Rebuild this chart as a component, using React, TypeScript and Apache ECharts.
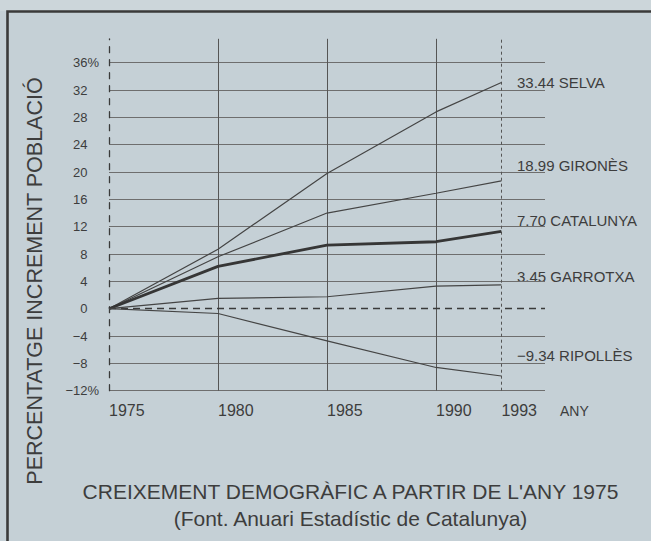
import React, { useEffect, useRef } from 'react';
import * as echarts from 'echarts';

// ---- data ----
const years = [1975, 1980, 1985, 1990, 1993];
const selva = [0, 8.7, 19.8, 28.8, 33.1];
const girones = [0, 7.6, 14.0, 16.9, 18.7];
const catalunya = [0, 6.2, 9.3, 9.8, 11.3];
const garrotxa = [0, 1.5, 1.75, 3.3, 3.5];
const ripolles = [0, -0.7, -4.7, -8.6, -9.85];

const seriesNames = ['SELVA', 'GIRONÈS', 'CATALUNYA', 'GARROTXA', 'RIPOLLÈS'];
const endLabels = ['33.44 SELVA', '18.99 GIRONÈS', '7.70 CATALUNYA', '3.45 GARROTXA', '−9.34 RIPOLLÈS'];
const gridYears = [1980, 1985, 1990];
const dashedYear = 1993;
const yName = 'PERCENTATGE INCREMENT POBLACIÓ';
const xName = 'ANY';
const title = "CREIXEMENT DEMOGRÀFIC A PARTIR DE L'ANY 1975";
const subtitle = '(Font. Anuari Estadístic de Catalunya)';

const FONT = '"Liberation Sans", Arial, sans-serif';
const INK = '#3d3d3d';
const LINE = '#454545';
const GRID = '#6e6e6e';
const BG = '#c5d0d6';

export default function App() {
  const ref = useRef<HTMLDivElement>(null);

  useEffect(() => {
    document.body.style.margin = '0';
    document.body.style.background = BG;
    if (!ref.current) return;
    const chart = echarts.init(ref.current, undefined, { renderer: 'svg' });

    const allSeries = [selva, girones, catalunya, garrotxa, ripolles];
    const labelY = [82, 165, 220, 276, 355];

    // split-line colours: hide the one at 0 (drawn dashed instead)
    const splitColors: string[] = [];
    for (let v = -12; v <= 36; v += 4) splitColors.push(v === 0 ? 'rgba(0,0,0,0)' : GRID);

    const series: any[] = allSeries.map((vals, i) => ({
      name: seriesNames[i],
      type: 'line',
      symbol: 'none',
      silent: true,
      z: 5,
      data: years.map((y, j) => [y, vals[j]]),
      lineStyle: { color: i === 2 ? '#363636' : LINE, width: i === 2 ? 2.8 : 1.2 },
    }));

    series.push({
      type: 'line',
      data: [],
      silent: true,
      markLine: {
        symbol: 'none',
        silent: true,
        label: { show: false },
        animation: false,
        data: [
          ...gridYears.map((y) => ({ xAxis: y, lineStyle: { color: '#555', width: 1, type: 'solid' } })),
          { xAxis: dashedYear, lineStyle: { color: '#555', width: 1, type: [3, 3] } },
          { yAxis: 0, lineStyle: { color: '#3a3a3a', width: 1.4, type: [7, 5] } },
        ],
      },
    });

    const option: any = {
      animation: false,
      backgroundColor: BG,
      grid: { left: 109, right: 106, top: 38.8, bottom: 150.3, containLabel: false },
      xAxis: {
        type: 'value',
        min: 1975,
        max: 1995,
        interval: 5,
        axisLine: { show: false, onZero: false },
        axisTick: { show: false },
        splitLine: { show: false },
        axisLabel: {
          customValues: years,
          align: 'left',
          margin: 12,
          fontSize: 16,
          color: INK,
          fontFamily: FONT,
          formatter: (v: number) => String(v),
        },
        name: xName,
        nameLocation: 'end',
        nameGap: 15,
        nameTextStyle: {
          fontSize: 14,
          color: INK,
          fontFamily: FONT,
          verticalAlign: 'top',
          align: 'left',
          padding: [13, 0, 0, 0],
        },
      },
      yAxis: {
        type: 'value',
        min: -12,
        max: 39.5,
        interval: 4,
        axisLine: { show: true, lineStyle: { color: '#3a3a3a', width: 1.3, type: [6, 7] } },
        axisTick: { show: false },
        splitLine: { show: true, showMaxLine: false, lineStyle: { color: splitColors, width: 1 } },
        axisLabel: {
          margin: 10,
          fontSize: 13,
          color: INK,
          fontFamily: FONT,
          formatter: (v: number) => {
            if (v % 4 !== 0) return '';
            const s = v < 0 ? '−' + Math.abs(v) : String(v);
            if (v === 36 || v === -12) return s + '%';
            return s + '{h|%}';
          },
          rich: {
            h: { fontSize: 13, color: 'rgba(0,0,0,0)', fontFamily: FONT },
          },
        },
      },
      series,
      graphic: [
        { type: 'rect', shape: { x: 0, y: 0, width: 651, height: 11 }, style: { fill: '#ccd6da' }, silent: true },
        {
          type: 'polyline',
          shape: { points: [[7.5, 541], [7.5, 11.5], [651, 11.5]] },
          style: { stroke: '#3a3a3a', lineWidth: 2.6, fill: 'none' },
          silent: true,
        },
        {
          type: 'text',
          x: 34.5,
          y: 281,
          rotation: Math.PI / 2,
          style: { text: yName, fontSize: 21.5, fill: INK, fontFamily: FONT, align: 'center', verticalAlign: 'middle' },
        },
        {
          type: 'text',
          x: 350.5,
          y: 491,
          style: { text: title, fontSize: 21, fill: INK, fontFamily: FONT, align: 'center', verticalAlign: 'middle' },
        },
        {
          type: 'text',
          x: 350.5,
          y: 518,
          style: { text: subtitle, fontSize: 21, fill: INK, fontFamily: FONT, align: 'center', verticalAlign: 'middle' },
        },
        ...endLabels.map((t, i) => ({
          type: 'text',
          x: 517,
          y: labelY[i],
          style: { text: t, fontSize: 15, fill: INK, fontFamily: FONT, align: 'left', verticalAlign: 'middle' },
        })),
      ],
    };

    chart.setOption(option);
    return () => chart.dispose();
  }, []);

  return (
    <div
      ref={ref}
      style={{ position: 'fixed', left: 0, top: 0, width: 651, height: 541 }}
    />
  );
}
